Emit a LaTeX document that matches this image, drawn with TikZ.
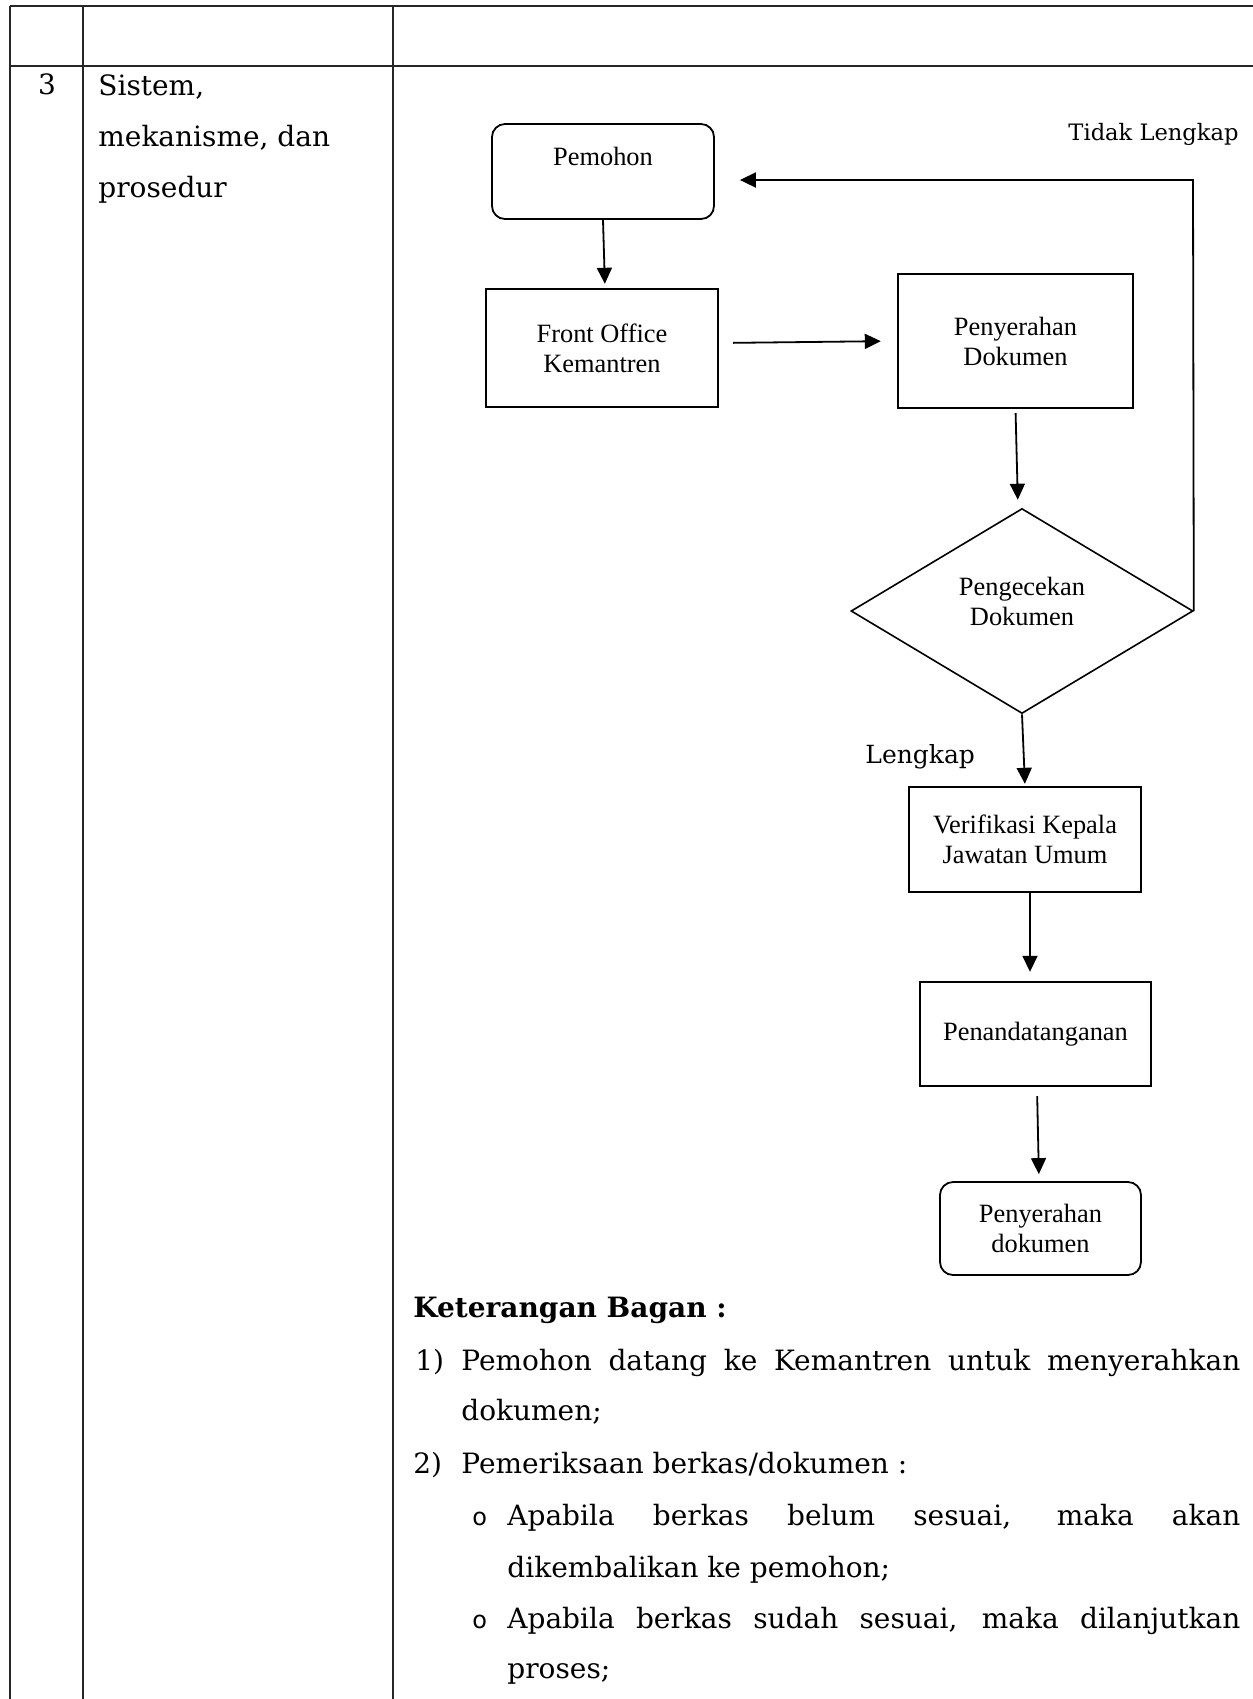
\documentclass[tikz,border=0pt]{standalone}
\usepackage{fontspec}
\setmainfont{DejaVu Serif}
\newfontfamily\boxfont{Liberation Serif}
\newfontfamily\bulletfont{DejaVu Sans}
\usetikzlibrary{arrows.meta,shapes.geometric,calc}

\begin{document}
\begin{tikzpicture}[x=0.5pt,y=-0.5pt,
  grid/.style={line width=0.9pt, black!85},
  box/.style={draw, line width=1.2pt, inner sep=0pt, align=center,
    font=\boxfont\fontsize{13.2}{15}\selectfont},
  rbox/.style={box, rounded corners=6.5pt, line width=0.9pt},
  dbox/.style={box, diamond, line width=0.8pt},
  arr/.style={-{Triangle[length=8pt,width=7.5pt]}, line width=0.9pt},
  body/.style={inner sep=0pt, anchor=base west, font=\fontsize{14}{17}\selectfont},
  note/.style={inner sep=0pt, anchor=base west, font=\fontsize{12.5}{15}\selectfont},
  bullet/.style={inner sep=0pt, anchor=base west, font=\bulletfont\fontsize{12}{14}\selectfont}]
\useasboundingbox (0,0) rectangle (1253,1699);

% table rules
\draw[grid] (10,6) -- (1253,6);
\draw[grid] (10,66) -- (1253,66);
\draw[grid] (10,6) -- (10,1699);
\draw[grid] (83,6) -- (83,1699);
\draw[grid] (393,6) -- (393,1699);

% left columns
\node[body, anchor=base] (num) at (47,94) {3};
\node[body] (c1) at (98,95) {Sistem,};
\node[body] (c2) at (98,146) {mekanisme, dan};
\node[body] (c3) at (98,197) {prosedur};

% flowchart
\node[rbox, minimum width=111pt, minimum height=47.5pt] (pemohon) at (603,171.5) {Pemohon\\\phantom{P}};
\node[box, minimum width=116pt, minimum height=59pt] (front) at (602,348) {Front Office\\Kemantren};
\node[box, minimum width=117.5pt, minimum height=67pt] (penyer) at (1015.5,341) {Penyerahan\\Dokumen};
\node[dbox, minimum width=171pt, minimum height=102.5pt] (check) at (1022,611) {Pengecekan\\Dokumen\\[-5pt]\mbox{}};
\node[box, minimum width=116pt, minimum height=52.5pt] (verif) at (1025,839.5) {Verifikasi Kepala\\Jawatan Umum};
\node[box, minimum width=115.5pt, minimum height=52pt] (pen) at (1035.5,1034) {Penandatanganan};
\node[rbox, minimum width=100.5pt, minimum height=46.5pt] (done) at (1040.5,1228.5) {Penyerahan\\dokumen};

\node[note, anchor=base east, font=\fontsize{11.3}{14}\selectfont] (tl) at (1239,140) {Tidak Lengkap};
\node[note] (lk) at (865,763) {Lengkap};

\draw[arr, shorten >=2pt] (pemohon.south) -- ($(front.north)+(3,0)$);
\draw[arr, shorten <=7pt, shorten >=8pt] ($(front.east)+(0,-5)$) -- (penyer.west);
\draw[arr, shorten <=2pt, shorten >=4pt] (penyer.south) -- ($(check.north)+(-4,0)$);
\coordinate (ret) at (1193,180);
\draw[arr, shorten >=12.5pt] (check.east) -- (ret) -- (pemohon.east |- ret);
\draw[arr, shorten >=1pt] (check.south) -- (verif.north);
\draw[arr, shorten >=4.5pt] ($(verif.south)+(5,0)$) -- ($(pen.north)+(-5.5,0)$);
\draw[arr, shorten <=4.5pt, shorten >=3.5pt] ($(pen.south)+(1.5,0)$) -- ($(done.north)+(-1.5,0)$);

% explanation
\node[body] (k0) at (413,1317) {\bfseries Keterangan Bagan :};
\node[body] (n1) at (415,1370) {1)};
\node[body] (t1) at (461,1370) {\makebox[389.5pt][s]{Pemohon datang ke Kemantren untuk menyerahkan}};
\node[body] (t1b) at (461,1420) {dokumen;};
\node[body] (n2) at (413,1473) {2)};
\node[body] (t2) at (461,1473) {Pemeriksaan berkas/dokumen :};
\node[bullet] (b1) at (472,1525) {o};
\node[body] (t3) at (507,1525) {\makebox[366.5pt][s]{Apabila berkas belum sesuai, maka akan}};
\node[body] (t3b) at (507,1577) {dikembalikan ke pemohon;};
\node[bullet] (b2) at (472,1628) {o};
\node[body] (t4) at (507,1628) {\makebox[366.5pt][s]{Apabila berkas sudah sesuai, maka dilanjutkan}};
\node[body] (t4b) at (507,1678) {proses;};
\end{tikzpicture}
\end{document}
